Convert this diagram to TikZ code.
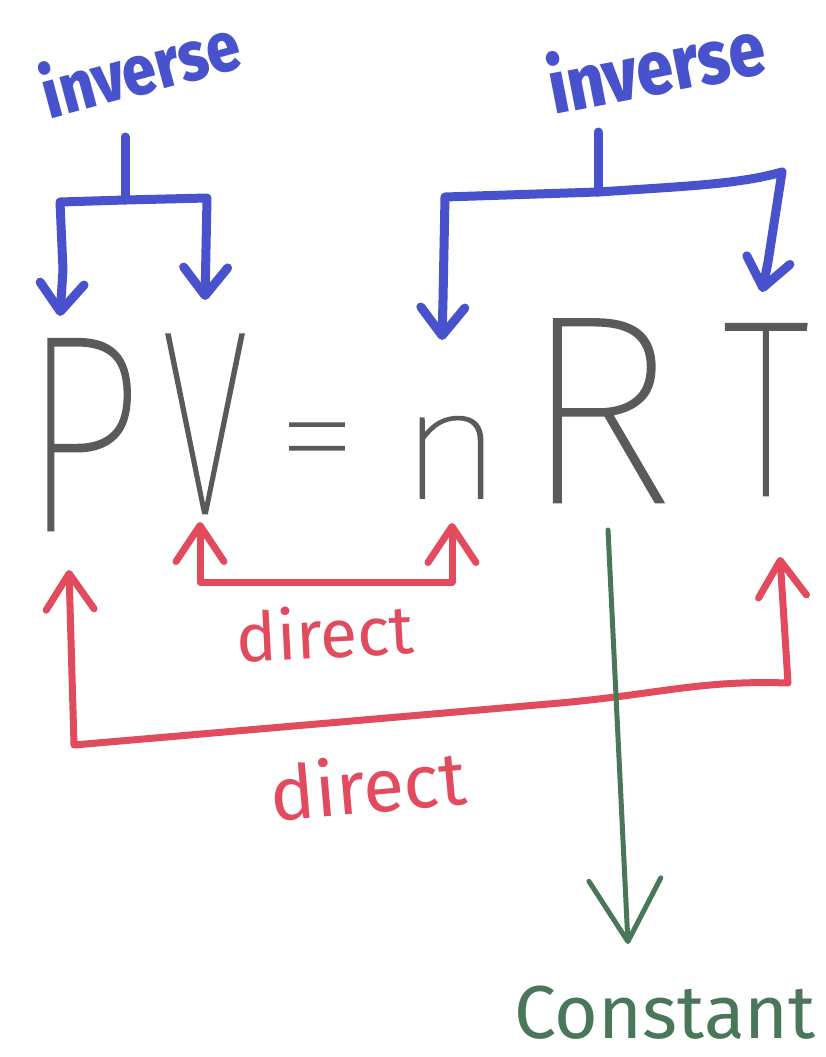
\documentclass[tikz,border=0pt]{standalone}
\usepackage{fontspec}
\setmainfont{Fira Sans}
\newfontfamily\eqfont{Fira Sans Thin}[FakeBold=1]
\newfontfamily\bluefont{Fira Sans ExtraBold}[FakeStretch=0.86]
\usetikzlibrary{arrows.meta}
\definecolor{mblue}{RGB}{72,82,204}
\definecolor{mred}{RGB}{226,74,94}
\definecolor{mgray}{RGB}{90,90,92}
\definecolor{mgreen}{RGB}{74,118,90}
\begin{document}
\begin{tikzpicture}[x=1pt,y=-1pt,
  bline/.style={draw=mblue,line width=9pt,line cap=round,line join=round},
  rline/.style={draw=mred,line width=7pt,line cap=round,line join=round},
  gline/.style={draw=mgreen,line width=5pt,line cap=round,line join=round},
  btip/.tip={Straight Barb[length=28pt,width=44pt,round]},
  rtip/.tip={Straight Barb[length=36pt,width=48pt,round]},
  gtip/.tip={Straight Barb[length=62pt,width=72pt,round]},
  letter/.style={inner sep=0pt,text=mgray,anchor=base},
  bluetext/.style={inner sep=0pt,text=mblue,font=\bluefont\fontsize{70}{70}\selectfont},
  redtext/.style={inner sep=0pt,text=mred},
  greentext/.style={inner sep=0pt,text=mgreen}
]
\fill[white] (0,0) rectangle (825,1057);
\useasboundingbox (0,0) rectangle (825,1057);

% labels
\node[bluetext,rotate=15] (invL) at (140,66) {inverse};
\node[bluetext,rotate=11,font=\bluefont\fontsize{76}{76}\selectfont] (invR) at (656,64) {inverse};
\node[redtext,rotate=3,font=\fontsize{68}{68}\selectfont] (dir1) at (325,632) {direct};
\node[redtext,rotate=5,font=\fontsize{75}{75}\selectfont] (dir2) at (368,784) {direct};
\node[greentext,anchor=base,font=\fontsize{75}{75}\selectfont] (const) at (665,1038) {Constant};

% equation
\node[letter,font=\eqfont\fontsize{280}{280}\selectfont,xscale=0.77] (P) at (82,530) {P};
\node[letter,font=\eqfont\fontsize{262}{262}\selectfont,xscale=0.62] (V) at (205,513) {V};
\node[letter,font=\eqfont\fontsize{150}{150}\selectfont,xscale=1.1] (eq) at (317,486) {=};
\node[letter,font=\eqfont\fontsize{154}{154}\selectfont,xscale=1.15] (n) at (451,498) {n};
\node[letter,font=\eqfont\fontsize{268}{268}\selectfont] (R) at (598,502) {R};
\node[letter,font=\eqfont\fontsize{251}{251}\selectfont,xscale=0.72] (T) at (766,495) {T};

% blue brackets (inverse)
\coordinate (bL0) at (125,137);
\coordinate (bL1) at (125,200);
\coordinate (bLa) at (60,202);
\coordinate (bLb) at (207,198);
\coordinate (toP) at (60,316);
\coordinate (toV) at (205,300);
\draw[bline] (bL0) -- (bL1);
\draw[bline,-btip] (bL1) -- (bLa) -- (63,270) -- (toP);
\draw[bline,-btip] (bL1) -- (bLb) -- (toV);

\coordinate (bR0) at (598,132);
\coordinate (bR1) at (598,192);
\coordinate (bRa) at (445,197);
\coordinate (bRb) at (782,172);
\coordinate (ton) at (442,340);
\coordinate (toT) at (762,292);
\draw[bline] (bR0) -- (bR1);
\draw[bline,-btip] (bR1) -- (bRa) -- (443,300) -- (ton);
\draw[bline,-btip] (bR1) .. controls (690,186) and (740,184) .. (bRb) -- (768,262) -- (toT);

% red brackets (direct)
\coordinate (rV) at (200,522);
\coordinate (rn) at (452,523);
\draw[rline,rtip-rtip] (rV) -- (200,582) -- (452,582) -- (rn);
\coordinate (rP) at (69,570);
\coordinate (rT) at (780,557);
\draw[rline,rtip-rtip] (rP) -- (74,745) -- (560,703) .. controls (660,694) and (700,680) .. (788,683) -- (rT);

% green (constant)
\coordinate (gR) at (608,530);
\coordinate (gC) at (628,944);
\draw[gline,-gtip] (gR) -- (gC);
\end{tikzpicture}
\end{document}
